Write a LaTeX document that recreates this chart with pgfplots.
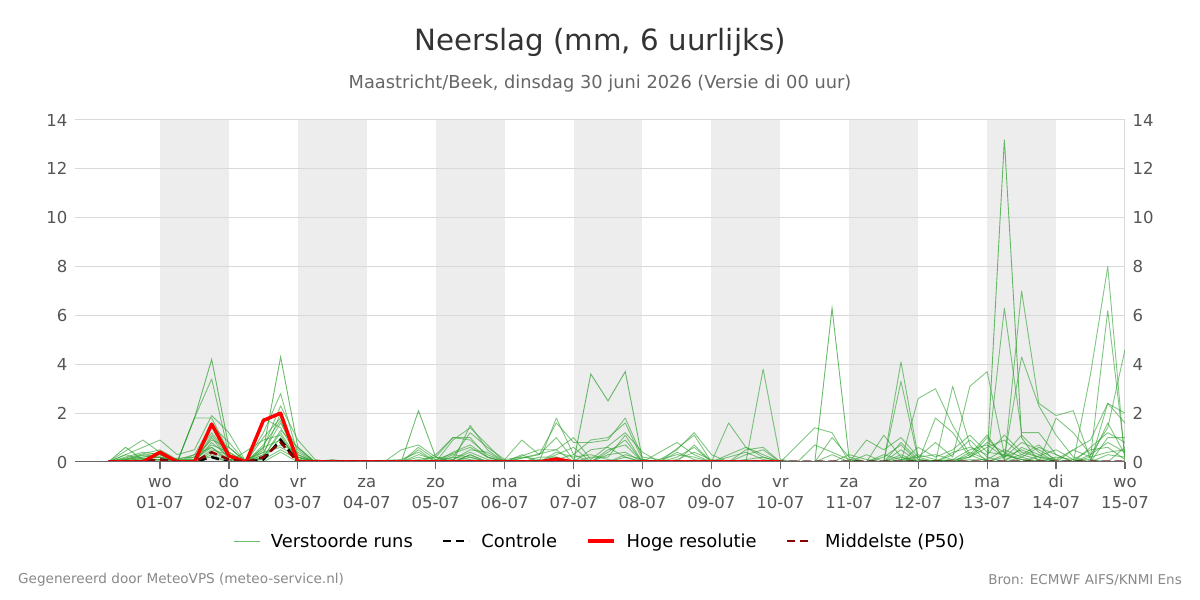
\documentclass[border=0pt]{standalone}
\usepackage{fontspec}
\setmainfont{DejaVu Sans}
\usepackage{pgfplots}
\pgfplotsset{compat=1.18}
\definecolor{ens}{RGB}{44,160,44}
\definecolor{bandgray}{RGB}{237,237,237}
\definecolor{gridgray}{RGB}{217,217,217}
\definecolor{labelgray}{RGB}{85,85,85}
\definecolor{axisgray}{RGB}{102,102,102}
\definecolor{p50}{RGB}{139,0,0}
\definecolor{titlegray}{RGB}{51,51,51}
\definecolor{subgray}{RGB}{102,102,102}
\definecolor{footgray}{RGB}{136,136,136}
\newcommand{\tl}[2]{\strut #1\\#2}
\pgfplotsset{
  common/.style={
    at={(75pt,138pt)}, anchor=south west,
    scale only axis, width=1050pt, height=342pt,
    xmin=-1.233, xmax=14, ymin=0, ymax=14,
    ytick={0,2,...,14},
    axis line style={draw=none},
    ytick style={draw=none},
    /pgf/number format/assume math mode=true,
  },
  ensm/.style={ens, opacity=0.6, line width=0.9pt, line join=round, forget plot},
}
\begin{document}
\begin{tikzpicture}
\path (0,0) rectangle (1200pt,600pt);
\node[text=titlegray, font=\fontsize{29.3}{34}\selectfont] at (600pt,558pt) {Neerslag (mm, 6 uurlijks)};
\node[text=subgray, font=\fontsize{17.8}{21}\selectfont] at (600pt,516pt) {Maastricht/Beek, dinsdag 30 juni 2026 (Versie di 00 uur)};
\node[text=footgray, font=\fontsize{13.6}{16}\selectfont, anchor=west, inner sep=0pt] at (18pt,20pt) {Gegenereerd door MeteoVPS (meteo-service.nl)};
\node[text=footgray, font=\fontsize{13.5}{16}\selectfont, anchor=east, inner sep=0pt] at (1182pt,20pt) {Bron: ECMWF AIFS/KNMI Ens};

\begin{axis}[common, set layers,
  yticklabel style={font=\fontsize{16.5}{19}\selectfont, text=labelgray, xshift=-4pt},
  xtick={0,1,...,14},
  xticklabels={{\tl{wo}{01-07}},{\tl{do}{02-07}},{\tl{vr}{03-07}},{\tl{za}{04-07}},{\tl{zo}{05-07}},{\tl{ma}{06-07}},{\tl{di}{07-07}},{\tl{wo}{08-07}},{\tl{do}{09-07}},{\tl{vr}{10-07}},{\tl{za}{11-07}},{\tl{zo}{12-07}},{\tl{ma}{13-07}},{\tl{di}{14-07}},{\tl{wo}{15-07}}},
  xticklabel style={align=center, font=\fontsize{16.5}{21}\selectfont, text=labelgray},
  xtick style={draw=axisgray, line width=1.2pt},
  xtick align=outside, major tick length=7pt,
  xtick pos=bottom,
  ymajorgrids, grid style={gridgray, line width=1pt},
  legend style={at={(0.5,-0.231)}, anchor=center, draw=none, fill=none,
    font=\fontsize{17.9}{21}\selectfont, legend columns=4,
    /tikz/every odd column/.append style={column sep=9pt},
    /tikz/every even column/.append style={column sep=27pt}},
  legend image code/.code={\draw[#1] (0pt,0pt) -- (26pt,0pt);},
]
\begin{pgfonlayer}{axis background}
\fill[bandgray] (axis cs:0,0) rectangle (axis cs:1,14);
\fill[bandgray] (axis cs:2,0) rectangle (axis cs:3,14);
\fill[bandgray] (axis cs:4,0) rectangle (axis cs:5,14);
\fill[bandgray] (axis cs:6,0) rectangle (axis cs:7,14);
\fill[bandgray] (axis cs:8,0) rectangle (axis cs:9,14);
\fill[bandgray] (axis cs:10,0) rectangle (axis cs:11,14);
\fill[bandgray] (axis cs:12,0) rectangle (axis cs:13,14);
\end{pgfonlayer}
\draw[gridgray, line width=1pt] (axis cs:14,0) -- (axis cs:14,14);

% legend entry for ensemble
\addplot[ens, opacity=0.7, line width=0.9pt] coordinates {(-0.75,0)(-0.5,0.6)(-0.25,0.1)(0,0.2)(0.25,0)(0.5,1.8)(0.75,4.2)(1,0.6)(1.25,0)(1.5,0.5)(1.75,4.3)(2,0.6)(2.25,0)(3.5,0)(3.75,2.1)(4,0.2)(4.25,0)(6,0)(6.25,3.6)(6.5,2.5)(6.75,3.7)(7,0.1)(7.25,0)(9.5,0)(9.75,6.3)(10,0.1)(10.25,0)(12,0.1)(12.25,13.2)(12.5,1.0)(12.75,0)(14,0)};
\addlegendentry{Verstoorde runs}
\addplot[ensm] coordinates {(-0.75,0)(-0.25,0.9)(0,0.4)(0.25,0)(0.5,1.8)(0.75,3.4)(1,0.3)(1.25,0)(1.5,1.2)(1.75,2.8)(2,0.3)(2.25,0)(4.25,0)(4.5,1.5)(4.75,0.5)(5,0)(8.5,0)(8.75,3.8)(9,0.1)(9.25,0)(10.5,0)(10.75,4.1)(11,0.2)(11.25,0)(12,0)(12.25,6.3)(12.5,1.2)(12.75,1.2)(13,0.3)(13.25,0)(13.5,3.6)(13.75,8.0)(14,0)};
\addplot[ensm] coordinates {(-0.75,0)(0,0.9)(0.25,0.3)(0.5,0.5)(0.75,1.9)(1,1.2)(1.25,0)(1.5,0.6)(1.75,2.3)(2,0.9)(2.25,0.1)(2.5,0)(4,0)(4.25,0.9)(4.5,1.4)(4.75,0.7)(5,0)(5.5,0)(5.75,1.8)(6,0.3)(6.25,0.9)(6.5,1.0)(6.75,1.6)(7,0.1)(7.25,0)(10.5,0)(10.75,3.3)(11,0.1)(11.25,0)(12.25,0)(12.5,7.0)(12.75,2.4)(13,1.9)(13.25,2.1)(13.5,0.1)(13.75,0)(14,0)};
\addplot[ensm] coordinates {(-0.75,0)(-0.5,0.2)(-0.25,0.4)(0,0.3)(0.25,0)(0.5,1.8)(0.75,1.8)(1,0.4)(1.25,0)(1.5,0.3)(1.75,2.0)(2,0.2)(2.25,0)(3.25,0)(3.5,0.5)(3.75,0.7)(4,0.2)(4.25,1.0)(4.5,0.9)(4.75,0.3)(5,0)(5.5,0.3)(5.75,1.6)(6,0.8)(6.25,0.8)(6.5,0.9)(6.75,1.8)(7,0.2)(7.25,0.1)(7.5,0.5)(7.75,1.2)(8,0.3)(8.25,0)(10.75,0)(11,2.6)(11.25,3.0)(11.5,1.5)(11.75,0.3)(12,0)(12.25,0.2)(12.5,4.3)(12.75,2.3)(13,1.1)(13.25,0.2)(13.5,0)(13.75,2.4)(14,2.0)};
\addplot[ensm] coordinates {(-0.75,0)(0,0.5)(0.25,0.1)(0.5,0.3)(0.75,1.5)(1,0.8)(1.25,0)(1.5,1.0)(1.75,1.8)(2,0.5)(2.25,0)(3.5,0)(3.75,0.5)(4,0)(4.25,0.2)(4.5,1.2)(4.75,0.6)(5,0.1)(5.25,0.9)(5.5,0.3)(5.75,1.0)(6,0.1)(6.25,0)(6.5,0.5)(6.75,0.7)(7,0)(7.5,0.8)(7.75,0.3)(8,0)(8.25,1.6)(8.5,0.6)(8.75,0.2)(9,0)(9.5,1.4)(9.75,1.2)(10,0)(11.25,0)(11.5,3.1)(11.75,0.7)(12,0)(12.75,0)(13,1.8)(13.25,1.2)(13.5,0.3)(13.75,1.4)(14,4.6)};
\addplot[ensm] coordinates {(-0.75,0)(0,0.2)(0.25,0)(0.5,0.2)(0.75,1.2)(1,0.3)(1.25,0)(1.5,0.4)(1.75,1.6)(2,0.3)(2.25,0)(3.75,0)(4,0.3)(4.25,1.0)(4.5,1.0)(4.75,0.2)(5,0)(5.5,0.5)(5.75,0.5)(6,0)(8.25,0)(8.5,0.5)(8.75,0.6)(9,0)(10,0)(10.25,0.9)(10.5,0.5)(10.75,1.0)(11,0.2)(11.25,0.8)(11.5,0.2)(11.75,3.1)(12,3.7)(12.25,0.3)(12.5,0.1)(13,0)(13.25,0.5)(13.5,0.2)(13.75,6.2)(14,0.2)};
\addplot[ensm] coordinates {(-0.75,0)(0,0.1)(0.5,0)(0.75,1.0)(1,0.1)(1.25,0)(1.5,1.8)(1.75,1.4)(2,0.2)(2.25,0)(3.5,0)(3.75,0.3)(4,0.1)(4.5,0.6)(4.75,0.2)(5,0)(5.75,0.5)(6,1.0)(6.25,0.1)(6.75,1.2)(7,0.4)(7.25,0)(7.75,1.1)(8,0)(8.5,0.6)(8.75,0.3)(9,0)(10.25,0)(10.5,1.1)(10.75,0.2)(11,0)(11.25,1.8)(11.5,1.2)(11.75,0.2)(12,1.0)(12.25,0.2)(12.5,0.8)(12.75,0.5)(13,0.1)(13.5,0.9)(13.75,2.4)(14,1.6)};
\addplot[ensm] coordinates {(-0.75,0)(-0.5,0.1)(0,0.3)(0.25,0)(0.5,0)(0.75,0.8)(1,0.2)(1.25,0)(1.5,0.2)(1.75,1.2)(2,0.1)(2.25,0)(3.5,0)(3.75,0.2)(4,0)(4.25,0)(4.5,0.3)(4.75,0)(5.5,0)(5.75,0.2)(6,0)(6.25,0)(6.5,0.3)(6.75,0.4)(7,0)(7.5,0)(7.75,0.7)(8,0)(9.5,0)(9.75,0.3)(10,0)(10.5,0)(10.75,0.3)(11,0)(11.25,0)(11.5,0.4)(11.75,0.6)(12,0.3)(12.25,1.1)(12.5,0.4)(12.75,0.2)(13,0)(13.5,0)(13.75,1.0)(14,1.0)};
\addplot[ensm] coordinates {(-0.75,0)(0,0.1)(0.5,0.1)(0.75,0.6)(1,0.1)(1.5,0.1)(1.75,1.0)(2,0.1)(2.25,0)(4,0)(4.25,0.1)(4.5,0.4)(4.75,0.1)(5,0)(5.75,0.1)(6,0.3)(6.25,0)(7,0)(7.25,0.1)(7.5,0.3)(7.75,0.2)(8,0)(9.5,0)(9.75,1.0)(10,0.2)(10.25,0)(10.5,0)(10.75,0.5)(11,0)(11.5,0)(11.75,0.3)(12,1.1)(12.25,0.1)(12.5,0.3)(12.75,0.7)(13,0)(13.5,0.1)(13.75,1.6)(14,0.3)};
\addplot[ensm] coordinates {(-0.75,0)(-0.5,0.3)(-0.25,0.1)(0,0.1)(0.5,0)(0.75,0.5)(1,0.3)(1.25,0)(1.5,0.6)(1.75,0.9)(2,0.2)(2.25,0)(2.5,0.1)(2.75,0)(3.5,0.1)(3.75,0.4)(4,0)(4.25,0.3)(4.5,0.2)(4.75,0)(5.25,0.2)(5.5,0.1)(5.75,0)(6,0)(6.25,0.5)(6.5,0.6)(6.75,0.2)(7,0)(8.25,0)(8.5,0.3)(8.75,0.5)(9,0)(10,0)(10.25,0.3)(10.5,0)(10.75,0)(11,0.6)(11.25,0.2)(11.5,0.5)(11.75,1.1)(12,0.4)(12.25,0.3)(12.5,0.1)(12.75,0)(13,0.2)(13.25,0.1)(13.5,0.5)(13.75,0.6)(14,0.1)};
\addplot[ensm] coordinates {(-0.75,0)(-0.25,0.2)(0,0.3)(0.25,0)(0.5,0.1)(0.75,0.7)(1,0.4)(1.25,0)(1.5,0.3)(1.75,0.7)(2,0.4)(2.25,0)(3.5,0)(3.75,0.1)(4,0.2)(4.25,0.1)(4.5,0.5)(4.75,0.4)(5,0)(5.5,0)(5.75,0.3)(6,0.6)(6.25,0)(6.5,0)(6.75,0.3)(7,0.1)(7.25,0)(7.5,0.1)(7.75,0.4)(8,0.1)(8.25,0)(9.25,0)(9.5,0.7)(9.75,0.4)(10,0.1)(10.25,0)(10.5,0.2)(10.75,0.7)(11,0)(11.5,0.1)(11.75,0.5)(12,0.7)(12.25,0.2)(12.5,0.5)(12.75,0.2)(13,0.1)(13.25,0)(13.5,0.2)(13.75,0.4)(14,0.5)};
\addplot[ensm] coordinates {(-0.75,0)(0,0.2)(0.25,0.1)(0.5,0)(0.75,1.1)(1,0.2)(1.25,0)(1.5,0.7)(1.75,1.7)(2,0)(4.25,0)(4.5,0.3)(4.75,0)(5.5,0)(5.75,0.4)(6,0.2)(6.25,0.3)(6.5,0.1)(6.75,0)(7.25,0)(7.5,0.2)(7.75,0.6)(8,0)(8.25,0)(8.5,0.1)(8.75,0.2)(9,0)(10.5,0)(10.75,0.8)(11,0.1)(11.5,0)(11.75,0.2)(12,0.6)(12.25,0.9)(12.5,0.3)(12.75,0.1)(13,0)(13.25,0)(13.5,0.6)(13.75,1.2)(14,0.8)};
\addplot[ensm] coordinates {(-0.75,0)(0,0.1)(0.5,0.2)(0.75,0.9)(1,0.6)(1.25,0)(1.5,0.2)(1.75,1.3)(2,0.6)(2.25,0)(4,0)(4.25,0.2)(4.5,0.1)(4.75,0)(5.25,0)(5.5,0.2)(5.75,0.2)(6,0)(6.25,0)(6.5,0.4)(6.75,0.9)(7,0)(8,0)(8.25,0.2)(8.5,0.4)(8.75,0.1)(9,0)(10.25,0)(10.5,0.3)(10.75,0.1)(11,0)(11.25,0)(11.5,0.3)(11.75,0.9)(12,0.2)(12.25,0)(12.5,0.2)(12.75,0.6)(13,0.3)(13.25,0)(13.5,0.3)(13.75,0.8)(14,0.4)};
\addplot[ensm] coordinates {(-0.75,0)(0,0.05)(0.5,0)(0.75,0.4)(1,0.1)(1.25,0)(1.5,0.1)(1.75,0.5)(2,0.1)(2.25,0)(10.75,0)(11,0.3)(11.25,0.1)(11.5,0)(11.75,0.4)(12,0.1)(12.25,0.5)(12.5,0.2)(12.75,0)(14,0)};
\addplot[ensm] coordinates {(-0.75,0)(0.5,0)(0.75,0.3)(1,0)(1.5,0)(1.75,0.4)(2,0)(4.25,0)(4.5,0.2)(4.75,0)(6.5,0)(6.75,0.2)(7,0)(12.25,0)(12.5,0.6)(12.75,0.3)(13,0)(13.5,0)(13.75,0.3)(14,0.2)};
\addplot[ensm] coordinates {(-0.75,0)(-0.5,0.1)(-0.25,0.3)(0,0.2)(0.25,0)(0.75,0.2)(1,0)(1.25,0.1)(1.5,0.4)(1.75,0.6)(2,0.2)(2.25,0)(3.5,0)(3.75,0.6)(4,0.1)(4.25,0)(5,0)(5.25,0.3)(5.5,0)(7.25,0)(7.5,0.4)(7.75,0.1)(8,0)(9.75,0)(10,0.3)(10.25,0.1)(10.5,0)(11.25,0.3)(11.5,0.1)(11.75,0.2)(12,0.8)(12.25,0.4)(12.5,0)(13,0.5)(13.25,0.1)(13.5,0)(14,0)};
\addplot[ensm] coordinates {(-0.75,0)(0,0.4)(0.25,0)(0.75,0.6)(1,0)(1.5,0.9)(1.75,1.1)(2,0)(4,0)(4.25,0.4)(4.5,0.7)(4.75,0.2)(5,0)(6,0)(6.25,0.2)(6.5,0.2)(6.75,1.1)(7,0)(10.5,0)(10.75,0.2)(11,0)(12,0)(12.25,0.3)(12.5,1.1)(12.75,0.4)(13,0)(13.75,0)(14,0.6)};

% controle
\addplot[black, line width=2.5pt, dash pattern=on 8pt off 5pt] coordinates {(-0.75,0)(-0.5,0)(-0.25,0)(0,0.1)(0.25,0)(0.5,0)(0.75,0.2)(1,0)(1.25,0)(1.5,0.1)(1.75,0.9)(2,0)(2.25,0)(14,0)};
\addlegendentry{Controle}
% hoge resolutie
\addplot[red, line width=3.5pt, line join=round] coordinates {(-0.75,0)(-0.5,0)(-0.25,0)(0,0.4)(0.25,0)(0.5,0)(0.75,1.55)(1,0.25)(1.25,0)(1.5,1.7)(1.75,2.0)(2,0)(2.25,0)(5.5,0)(5.75,0.12)(6,0)(9,0)};
\addlegendentry{Hoge resolutie}
% P50
\addplot[p50, line width=2.5pt, dash pattern=on 8pt off 5pt] coordinates {(-0.75,0)(-0.5,0)(-0.25,0)(0,0.1)(0.25,0)(0.5,0)(0.75,0.4)(1,0.1)(1.25,0)(1.5,0.2)(1.75,0.8)(2,0)(2.25,0)(14,0)};
\addlegendentry{Middelste (P50)}

\draw[axisgray, line width=1.2pt] (axis cs:-1.233,0) -- (axis cs:14,0);
\end{axis}

\begin{axis}[common, xtick=\empty, yticklabel pos=right,
  yticklabel style={font=\fontsize{16.5}{19}\selectfont, text=labelgray, xshift=4pt}]
\addplot[draw=none, forget plot] coordinates {(0,0)(14,14)};
\end{axis}
\end{tikzpicture}
\end{document}
